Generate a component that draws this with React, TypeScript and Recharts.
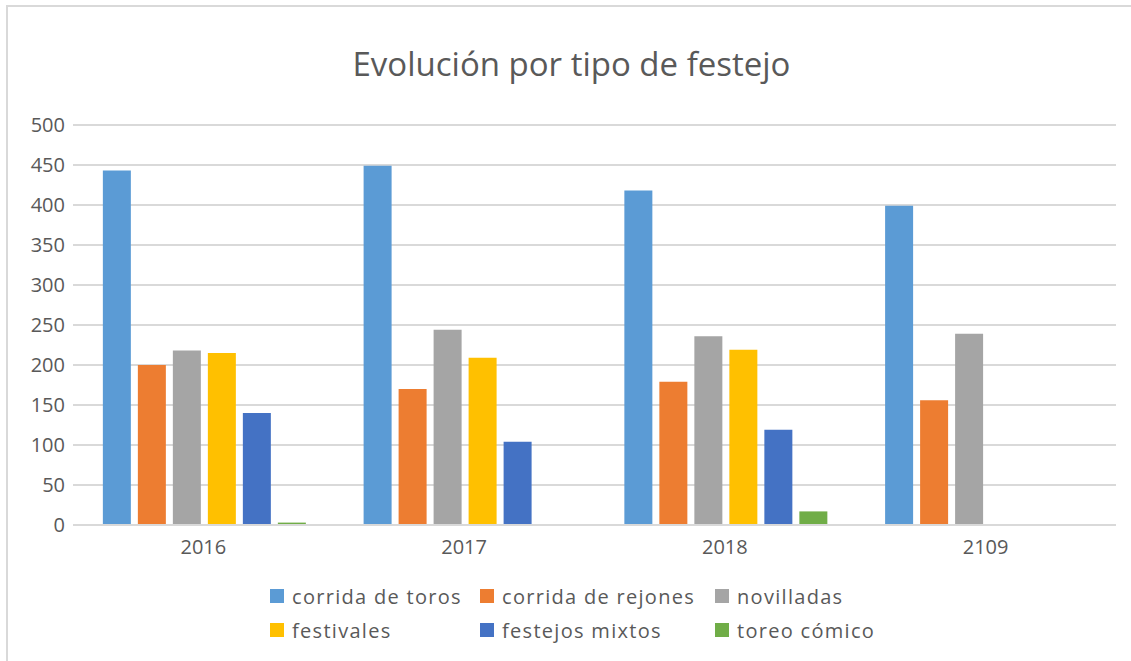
import { BarChart, Bar, XAxis, YAxis, CartesianGrid, Legend } from 'recharts'

const years = ['2016', '2017', '2018', '2109']

const corridaToros = [443, 449, 418, 399]
const corridaRejones = [200, 170, 179, 156]
const novilladas = [218, 244, 236, 239]
const festivales = [215, 209, 219, null]
const festejosMixtos = [140, 104, 119, null]
const toreoComico = [3, 0, 17, null]

const yTicks = [0, 50, 100, 150, 200, 250, 300, 350, 400, 450, 500]

const SERIES = [
  { key: 'toros', name: 'corrida de toros', color: '#5B9BD5', values: corridaToros },
  { key: 'rejones', name: 'corrida de rejones', color: '#ED7D31', values: corridaRejones },
  { key: 'novilladas', name: 'novilladas', color: '#A5A5A5', values: novilladas },
  { key: 'festivales', name: 'festivales', color: '#FFC000', values: festivales },
  { key: 'mixtos', name: 'festejos mixtos', color: '#4472C4', values: festejosMixtos },
  { key: 'comico', name: 'toreo cómico', color: '#70AD47', values: toreoComico },
]

const data = years.map((year, i) => {
  const row: Record<string, any> = { year }
  SERIES.forEach(s => { row[s.key] = s.values[i] })
  return row
})

const FONT = '"Open Sans", "Noto Sans", sans-serif'
const TEXT = '#595959'
const GRID = '#d9d9d9'

function FestejoLegend({ payload }: any) {
  const colX = [270, 480, 715]
  const rowY = [0, 34]
  // recharts sorts the payload by name; put it back in series order
  const order = SERIES.map(s => s.name)
  const items = [...(payload || [])].sort((a: any, b: any) => order.indexOf(a.value) - order.indexOf(b.value))
  return (
    <div style={{ position: 'relative', width: '100%', height: '100%' }}>
      {items.map((p: any, i: number) => (
        <div
          key={p.value}
          style={{
            position: 'absolute', left: colX[i % 3], top: rowY[Math.floor(i / 3)],
            display: 'flex', alignItems: 'center', height: 22,
            fontFamily: FONT, fontSize: 20, letterSpacing: 1.3, color: TEXT, whiteSpace: 'nowrap',
          }}
        >
          <span style={{ display: 'inline-block', width: 14, height: 14, background: p.color, marginRight: 8 }} />
          {p.value}
        </div>
      ))}
    </div>
  )
}

export default function App() {
  return (
    <div style={{ position: 'absolute', left: 0, top: 0, width: 1131, height: 661, overflow: 'hidden', background: '#fff' }}>
      <div style={{
        position: 'absolute', left: 6, top: 5, width: 1200, height: 700,
        borderLeft: `2px solid ${GRID}`, borderTop: `2px solid ${GRID}`,
      }} />
      <div style={{
        position: 'absolute', left: 0, top: 47, width: 1143, textAlign: 'center',
        fontFamily: FONT, fontSize: 33, lineHeight: '33px', color: TEXT,
      }}>
        Evolución por tipo de festejo
      </div>
      <BarChart
        width={1131}
        height={661}
        data={data}
        margin={{ top: 125, right: 15, bottom: 106, left: 0 }}
        barGap={7}
        barCategoryGap="11.45%"
      >
        <CartesianGrid vertical={false} stroke={GRID} strokeWidth={2} />
        <XAxis
          dataKey="year"
          height={30}
          axisLine={{ stroke: GRID, strokeWidth: 2 }}
          tickLine={false}
          tickMargin={9}
          tick={{ fontSize: 20, fill: TEXT, fontFamily: FONT }}
        />
        <YAxis
          width={73}
          domain={[0, 500]}
          ticks={yTicks}
          axisLine={false}
          tickLine={false}
          tick={{ fontSize: 20, fill: TEXT, fontFamily: FONT }}
        />
        <Legend
          layout="horizontal"
          verticalAlign="middle"
          content={<FestejoLegend />}
          wrapperStyle={{ left: 0, top: 585, width: 1131, height: 60 }}
        />
        {SERIES.map(s => (
          <Bar key={s.key} dataKey={s.key} name={s.name} fill={s.color} isAnimationActive={false} />
        ))}
      </BarChart>
    </div>
  )
}
